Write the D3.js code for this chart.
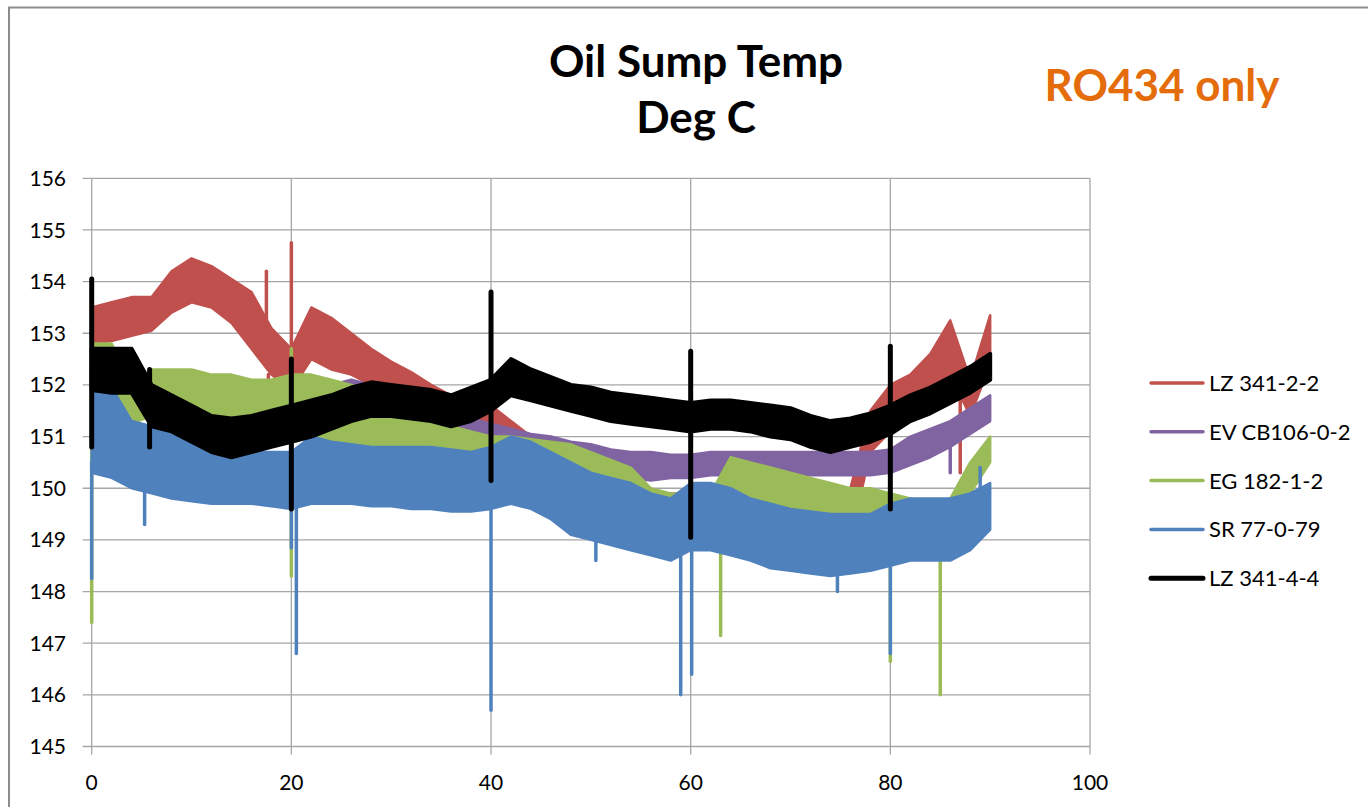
<!DOCTYPE html>
<html>
<head>
<meta charset="utf-8">
<script src="https://cdn.jsdelivr.net/npm/d3@7/dist/d3.min.js"></script>
<style>
  body { margin: 0; background: #fff; }
  svg text { font-family: Lato, "Open Sans", sans-serif; fill: #000; }
</style>
</head>
<body>
<div id="chart"></div>
<script>
// sample positions (hours) where the band edges were read
var timeX = [0, 2, 4, 6, 8, 10, 12, 14, 16, 18, 20, 22, 24, 26, 28, 30, 32, 34, 36, 38, 40, 42, 44,
  46, 48, 50, 52, 54, 56, 58, 60, 62, 64, 66, 68, 70, 72, 74, 76, 78, 80, 82, 84, 86, 88, 90];

var xTicks = [0, 20, 40, 60, 80, 100];
var yTicks = [145, 146, 147, 148, 149, 150, 151, 152, 153, 154, 155, 156];

var seriesNames = ["LZ 341-2-2", "EV CB106-0-2", "EG 182-1-2", "SR 77-0-79", "LZ 341-4-4"];

// upper / lower edge of each noisy trace
var redHi = [153.5, 153.6, 153.7, 153.7, 154.2, 154.45, 154.3, 154.05, 153.8, 153.1, 152.7, 153.5, 153.3, 153.0, 152.7, 152.45,
  152.25, 152.0, 151.8, 151.6, 151.6, 151.3, 151.0, 150.6, 150.3, 150.1, 150.0, 150.0, 149.9, 149.9, 149.9, 149.8,
  149.8, 149.7, 149.7, 149.6, 149.6, 149.8, 150.0, 151.5, 152.0, 152.2, 152.6, 153.25, 152.1, 153.35];
var redLo = [152.8, 152.85, 152.95, 153.05, 153.4, 153.6, 153.5, 153.2, 152.7, 152.2, 151.9, 152.5, 152.3, 152.2, 152.0, 151.8,
  151.6, 151.3, 151.1, 150.9, 150.8, 150.5, 150.0, 149.5, 149.1, 149.2, 149.3, 149.3, 149.3, 149.3, 149.2, 149.0,
  148.9, 148.8, 148.6, 148.5, 148.5, 148.6, 149.0, 150.7, 151.1, 151.4, 151.8, 152.2, 151.4, 152.4];

var purpleHi = [152.7, 152.6, 152.4, 152.0, 152.0, 152.0, 151.95, 151.95, 151.95, 151.95, 152.0, 152.0, 152.0, 152.1, 152.0, 151.8,
  151.5, 151.45, 151.4, 151.35, 151.25, 151.15, 151.05, 151.0, 150.9, 150.85, 150.75, 150.7, 150.7, 150.65, 150.65, 150.7,
  150.7, 150.7, 150.7, 150.7, 150.7, 150.7, 150.7, 150.7, 150.75, 151.0, 151.15, 151.3, 151.55, 151.8];
var purpleLo = [152.2, 152.0, 151.8, 151.3, 151.3, 151.3, 151.3, 151.3, 151.3, 151.3, 151.3, 151.3, 151.3, 151.3, 151.2, 151.1,
  151.0, 150.95, 150.9, 150.85, 150.8, 150.75, 150.65, 150.55, 150.4, 150.3, 150.2, 150.2, 150.15, 150.2, 150.2, 150.25,
  150.25, 150.25, 150.25, 150.25, 150.25, 150.25, 150.25, 150.25, 150.3, 150.45, 150.6, 150.8, 151.05, 151.3];

var greenHi = [152.8, 152.8, 152.0, 152.3, 152.3, 152.3, 152.2, 152.2, 152.1, 152.1, 152.2, 152.2, 152.1, 152.0, 151.9, 151.7,
  151.5, 151.3, 151.2, 151.1, 151.0, 151.0, 150.95, 150.9, 150.85, 150.7, 150.55, 150.4, 150.0, 149.9, 149.9, 149.9,
  150.6, 150.5, 150.4, 150.3, 150.2, 150.1, 150.0, 150.0, 149.9, 149.8, 149.7, 149.8, 150.5, 151.0];
var greenLo = [152.2, 152.0, 151.25, 151.4, 151.3, 151.2, 151.1, 151.0, 151.0, 151.0, 151.3, 150.9, 150.8, 150.7, 150.6, 150.5,
  150.45, 150.4, 150.4, 150.35, 150.3, 150.3, 150.2, 150.1, 150.0, 149.95, 149.9, 149.9, 149.4, 149.3, 149.3, 149.3,
  149.7, 149.6, 149.5, 149.45, 149.4, 149.4, 149.4, 149.35, 149.3, 149.3, 149.3, 149.4, 149.9, 150.5];

var blueHi = [151.95, 151.95, 151.3, 151.2, 151.1, 151.0, 150.8, 150.75, 150.7, 150.7, 150.7, 151.0, 150.9, 150.85, 150.8, 150.8,
  150.8, 150.8, 150.75, 150.7, 150.8, 151.0, 150.9, 150.7, 150.5, 150.3, 150.2, 150.1, 149.9, 149.8, 150.1, 150.1,
  150.0, 149.8, 149.7, 149.6, 149.55, 149.5, 149.5, 149.5, 149.7, 149.8, 149.8, 149.8, 149.9, 150.1];
var blueLo = [150.3, 150.2, 150.0, 149.9, 149.8, 149.75, 149.7, 149.7, 149.7, 149.65, 149.6, 149.7, 149.7, 149.7, 149.65, 149.65,
  149.6, 149.6, 149.55, 149.55, 149.6, 149.7, 149.6, 149.4, 149.1, 149.0, 148.9, 148.8, 148.7, 148.6, 148.8, 148.8,
  148.7, 148.6, 148.45, 148.4, 148.35, 148.3, 148.35, 148.4, 148.5, 148.6, 148.6, 148.6, 148.8, 149.2];

var blackHi = [152.7, 152.7, 152.7, 152.0, 151.8, 151.6, 151.4, 151.35, 151.4, 151.5, 151.6, 151.7, 151.8, 151.95, 152.05, 152.0,
  151.95, 151.9, 151.8, 151.95, 152.1, 152.5, 152.3, 152.15, 152.0, 151.95, 151.85, 151.8, 151.75, 151.7, 151.65, 151.7,
  151.7, 151.65, 151.6, 151.55, 151.4, 151.3, 151.35, 151.45, 151.6, 151.8, 151.95, 152.15, 152.35, 152.6];
var blackLo = [151.9, 151.85, 151.85, 151.2, 151.1, 150.9, 150.7, 150.6, 150.7, 150.8, 150.9, 151.0, 151.15, 151.3, 151.4, 151.4,
  151.35, 151.3, 151.2, 151.3, 151.5, 151.8, 151.7, 151.6, 151.5, 151.4, 151.3, 151.25, 151.2, 151.15, 151.1, 151.15,
  151.15, 151.1, 151.0, 150.95, 150.8, 150.7, 150.8, 150.9, 151.05, 151.3, 151.45, 151.65, 151.85, 152.1];

// isolated spikes: [x, from, to]
var redSpikes = [[17.5, 152.5, 154.2], [17.7, 150.8, 152.2], [20, 152.2, 154.75], [87, 150.3, 152.5]];
var purpleSpikes = [[86, 150.3, 150.9]];
var greenSpikes = [[0, 147.4, 152.3], [20, 148.3, 152.7], [63, 147.15, 149.6], [80, 146.65, 149.4], [85, 146.0, 149.4]];
var blueSpikes = [[0, 148.25, 150.5], [5.3, 149.3, 150.0], [20, 148.85, 149.8], [20.5, 146.8, 149.8], [40, 145.7, 149.8],
  [50.5, 148.6, 149.1], [59, 146.0, 148.8], [60.1, 146.4, 148.8], [74.7, 148.0, 148.4], [80, 146.8, 148.6], [89, 149.2, 150.4]];
var blackSpikes = [[0, 150.8, 154.05], [5.8, 150.8, 152.3], [20, 149.6, 152.5], [40, 150.15, 153.8],
  [60, 149.05, 152.65], [80, 149.6, 152.75]];

var config = {
  width: 1368,
  height: 807,
  plotLeft: 91.7,
  plotRight: 1090,
  plotTop: 178.3,
  plotBottom: 746.5,
  colors: ["#C0504D", "#8064A2", "#9BBB59", "#4F81BD", "#000000"],
  bandStroke: [2.5, 2.5, 2.5, 2.5, 4],
  spikeWidth: [3.5, 3.5, 3.5, 3.5, 5],
  legendX: 1151,
  legendY: 383,
  legendStep: 48.8
};

var series = [
  {hi: redHi, lo: redLo, spikes: redSpikes},
  {hi: purpleHi, lo: purpleLo, spikes: purpleSpikes},
  {hi: greenHi, lo: greenLo, spikes: greenSpikes},
  {hi: blueHi, lo: blueLo, spikes: blueSpikes},
  {hi: blackHi, lo: blackLo, spikes: blackSpikes}
];

var svg = d3.select("#chart").append("svg")
  .attr("width", config.width)
  .attr("height", config.height);

var x = d3.scaleLinear().domain([0, 100]).range([config.plotLeft, config.plotRight]);
var y = d3.scaleLinear().domain([145, 156]).range([config.plotBottom, config.plotTop]);

// chart frame (cropped at right and bottom)
svg.append("path")
  .attr("d", "M9,807 L9,7.5 L1368,7.5")
  .attr("fill", "none")
  .attr("stroke", "#8c8c8c")
  .attr("stroke-width", 2);

// gridlines
var grid = svg.append("g").attr("class", "grid");
grid.selectAll(".hgrid").data(yTicks).enter().append("line")
  .attr("x1", config.plotLeft - 9).attr("x2", config.plotRight)
  .attr("y1", function(d) { return y(d); }).attr("y2", function(d) { return y(d); })
  .attr("stroke", "#a6a6a6").attr("stroke-width", 1.3);
grid.selectAll(".vgrid").data(xTicks).enter().append("line")
  .attr("x1", function(d) { return x(d); }).attr("x2", function(d) { return x(d); })
  .attr("y1", config.plotTop).attr("y2", config.plotBottom + 8)
  .attr("stroke", "#a6a6a6").attr("stroke-width", 1.3);

// tick labels
svg.selectAll(".ylab").data(yTicks).enter().append("text")
  .attr("x", 66).attr("y", function(d) { return y(d); })
  .attr("dy", "0.36em")
  .attr("text-anchor", "end")
  .style("font-size", "21px")
  .text(function(d) { return d; });
svg.selectAll(".xlab").data(xTicks).enter().append("text")
  .attr("x", function(d) { return x(d); }).attr("y", 790)
  .attr("text-anchor", "middle")
  .style("font-size", "21px")
  .text(function(d) { return d; });

// traces, drawn in series order so black ends up on top
var band = d3.area()
  .x(function(d, i) { return x(timeX[i]); })
  .y0(function(d) { return y(d[0]); })
  .y1(function(d) { return y(d[1]); });

series.forEach(function(s, k) {
  var g = svg.append("g").attr("class", "series");
  var pts = s.hi.map(function(h, i) { return [s.lo[i], h]; });
  g.append("path")
    .attr("d", band(pts))
    .attr("fill", config.colors[k])
    .attr("stroke", config.colors[k])
    .attr("stroke-width", config.bandStroke[k])
    .attr("stroke-linejoin", "round");
  g.selectAll("line").data(s.spikes).enter().append("line")
    .attr("x1", function(d) { return x(d[0]); }).attr("x2", function(d) { return x(d[0]); })
    .attr("y1", function(d) { return y(d[1]); }).attr("y2", function(d) { return y(d[2]); })
    .attr("stroke", config.colors[k])
    .attr("stroke-width", config.spikeWidth[k])
    .attr("stroke-linecap", "round");
});

// titles
svg.append("text").attr("x", 696).attr("y", 77).attr("text-anchor", "middle")
  .style("font-size", "44px").style("font-weight", "bold").text("Oil Sump Temp");
svg.append("text").attr("x", 696).attr("y", 133).attr("text-anchor", "middle")
  .style("font-size", "44px").style("font-weight", "bold").text("Deg C");
svg.append("text").attr("x", 1162).attr("y", 101).attr("text-anchor", "middle")
  .style("font-size", "44px").style("font-weight", "bold").style("fill", "#E46C0A").text("RO434 only");

// legend
var legend = svg.append("g").attr("class", "legend");
var item = legend.selectAll("g").data(seriesNames).enter().append("g")
  .attr("transform", function(d, i) { return "translate(" + config.legendX + "," + (config.legendY + i * config.legendStep) + ")"; });
item.append("line")
  .attr("x1", 0).attr("x2", 52).attr("y1", 0).attr("y2", 0)
  .attr("stroke", function(d, i) { return config.colors[i]; })
  .attr("stroke-width", function(d, i) { return i === 4 ? 5 : 3.5; })
  .attr("stroke-linecap", "round");
item.append("text")
  .attr("x", 58).attr("y", 0).attr("dy", "0.36em")
  .style("font-size", "22px")
  .text(function(d) { return d; });
</script>
</body>
</html>
